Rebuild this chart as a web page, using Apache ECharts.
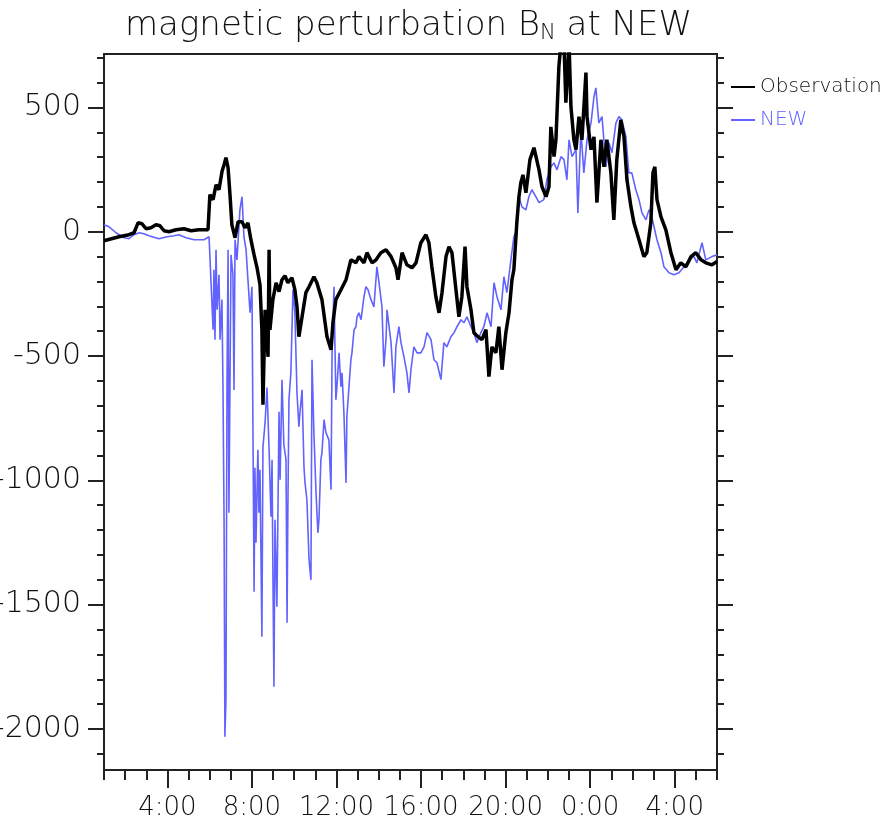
<!DOCTYPE html>
<html>
<head>
<meta charset="utf-8">
<script src="https://cdn.jsdelivr.net/npm/echarts@6/dist/echarts.min.js"></script>
<style>
  html, body { margin: 0; padding: 0; background: #fff; }
  #chart { width: 886px; height: 833px; }
</style>
</head>
<body>
<div id="chart"></div>
<script>
// time in hours from 0:00 of the first day, values in nT
var obsTime = [1.00, 1.71, 2.18, 2.42, 2.61, 2.80, 2.99, 3.22, 3.46, 3.65, 3.84, 4.07, 4.41, 4.78, 5.12, 5.49, 5.92,
    6.01, 6.16, 6.30, 6.44, 6.58, 6.68, 6.77, 6.87, 6.96, 7.05, 7.20, 7.34, 7.53, 7.67, 7.81, 7.95, 8.10, 8.24, 8.38,
    8.47, 8.52, 8.62, 8.71, 8.76, 8.81, 8.85, 8.99, 9.14, 9.28, 9.42, 9.56, 9.70, 9.89, 10.03, 10.13, 10.22, 10.37,
    10.55, 10.70, 10.93, 11.07, 11.31, 11.55, 11.74, 11.83, 11.97, 12.21, 12.45, 12.68, 12.92, 13.06, 13.30, 13.44,
    13.68, 13.87, 14.10, 14.34, 14.58, 14.81, 14.91, 15.10, 15.33, 15.57, 15.76, 15.99, 16.23, 16.37, 16.51, 16.70,
    16.85, 16.99, 17.18, 17.32, 17.46, 17.65, 17.79, 17.93, 18.08, 18.17, 18.36, 18.50, 18.69, 18.88, 19.07, 19.21,
    19.35, 19.54, 19.68, 19.83, 20.01, 20.16, 20.30, 20.39, 20.53, 20.63, 20.72, 20.82, 20.96, 21.15, 21.34, 21.58,
    21.72, 21.91, 22.05, 22.14, 22.29, 22.38, 22.52, 22.62, 22.76, 22.85, 23.00, 23.09, 23.23, 23.33, 23.47, 23.61,
    23.80, 23.85, 24.04, 24.18, 24.32, 24.51, 24.65, 24.79, 24.98, 25.12, 25.26, 25.45, 25.60, 25.74, 25.93, 26.07,
    26.31, 26.54, 26.68, 26.87, 26.97, 27.06, 27.16, 27.35, 27.58, 27.82, 28.06, 28.29, 28.53, 28.77, 29.00, 29.24,
    29.47, 29.76, 30.00];
var obsValue = [-36, -20, -12, -4, 36, 32, 12, 16, 28, 24, 4, 0, 8, 12, 4, 8, 8,
    149, 129, 189, 169, 241, 270, 298, 257, 149, 28, -24, 40, 40, 16, 36, -32, -93, -145, -213,
    -394, -696, -314, -434, -503, -72, -394, -273, -205, -241, -193, -177, -205, -185, -233, -302, -422, -342,
    -245, -221, -181, -205, -273, -422, -475, -366, -273, -233, -193, -113, -125, -100, -125, -84,
    -125, -113, -84, -72, -100, -145, -193, -84, -133, -145, -125, -44, -12, -44, -141, -261,
    -326, -245, -100, -60, -84, -233, -342, -261, -60, -221, -314, -406, -422, -434, -394, -583,
    -463, -487, -382, -555, -406, -326, -193, -153, 36, 141, 197, 229, 157, 290, 338, 249,
    181, 141, 181, 422, 302, 370, 664, 760, 760, 519, 760, 503, 370, 330, 463, 370,
    640, 463, 330, 382, 117, 370, 261, 370, 237, 48, 290, 450, 382, 209, 100, 36,
    -32, -100, -84, 36, 237, 261, 129, 60, 8, -84, -153, -125, -141, -100, -84, -113,
    -125, -133, -120];

var newTime = [1.00, 1.24, 1.57, 1.95, 2.18, 2.42, 2.66, 2.89, 3.13, 3.60, 3.98, 4.31, 4.55, 4.88, 5.26, 5.73, 5.97,
    6.06, 6.16, 6.20, 6.25, 6.30, 6.35, 6.44, 6.49, 6.58, 6.63, 6.68, 6.72, 6.77, 6.82, 6.87, 6.91, 7.01, 7.10, 7.15,
    7.20, 7.29, 7.43, 7.53, 7.62, 7.72, 7.81, 7.91, 8.00, 8.10, 8.14, 8.19, 8.28, 8.33, 8.38, 8.47, 8.52, 8.62, 8.71,
    8.81, 8.90, 8.95, 8.99, 9.04, 9.09, 9.18, 9.23, 9.28, 9.33, 9.42, 9.51, 9.61, 9.66, 9.70, 9.75, 9.84, 9.94,
    10.03, 10.13, 10.22, 10.27, 10.37, 10.46, 10.51, 10.60, 10.70, 10.79, 10.84, 10.93, 11.03, 11.12, 11.17, 11.26,
    11.31, 11.41, 11.50, 11.64, 11.74, 11.79, 11.88, 11.97, 12.02, 12.12, 12.21, 12.26, 12.35, 12.45, 12.49, 12.59,
    12.68, 12.73, 12.83, 12.92, 12.97, 13.06, 13.16, 13.30, 13.39, 13.49, 13.63, 13.77, 13.91, 14.01, 14.15, 14.24,
    14.34, 14.39, 14.58, 14.72, 14.81, 14.95, 15.05, 15.19, 15.33, 15.43, 15.52, 15.66, 15.81, 15.99, 16.14, 16.28,
    16.47, 16.61, 16.75, 16.94, 17.08, 17.22, 17.41, 17.56, 17.70, 17.89, 18.03, 18.17, 18.36, 18.50, 18.64, 18.83,
    18.97, 19.12, 19.31, 19.45, 19.59, 19.78, 19.92, 20.06, 20.25, 20.39, 20.53, 20.63, 20.77, 20.96, 21.10, 21.24,
    21.43, 21.58, 21.81, 21.95, 22.14, 22.29, 22.43, 22.62, 22.76, 22.90, 23.00, 23.14, 23.33, 23.42, 23.56, 23.70,
    23.85, 24.04, 24.18, 24.27, 24.41, 24.56, 24.75, 24.89, 25.03, 25.22, 25.36, 25.50, 25.69, 25.83, 25.97, 26.16,
    26.31, 26.45, 26.64, 26.78, 26.87, 27.02, 27.16, 27.35, 27.49, 27.73, 27.96, 28.20, 28.44, 28.67, 28.91, 29.05,
    29.29, 29.47, 29.76, 30.00];
var newValue = [28, 20, -4, -24, -28, -12, -4, -8, -16, -28, -20, -16, -12, -24, -32, -32, -20,
    -24, -394, -153, -434, -72, -314, -173, -434, -273, -636, -1158, -2031, -1882, -595, -72, -1130, -93, -173, -636,
    -32, -113, 88, 141, -20, -72, -193, -326, -221, -1448, -949, -1251, -877, -1130, -957, -1629, -865, -768, -627,
    -877, -1146, -917, -1359, -1830, -1158, -1508, -1118, -724, -997, -595, -857, -917, -1573, -1106, -676, -567, -233,
    -326, -648, -784, -728, -636, -945, -1010, -1078, -1319, -1400, -515, -808, -1050, -1211, -1158, -917,
    -889, -756, -808, -837, -1038, -487, -221, -676, -623, -487, -623, -567, -728, -1010, -744, -623,
    -515, -487, -394, -382, -342, -326, -354, -261, -221, -233, -273, -302, -141, -205, -302, -543,
    -434, -314, -446, -648, -463, -382, -446, -503, -567, -648, -555, -463, -487, -487, -463, -406,
    -434, -515, -527, -595, -446, -463, -422, -406, -382, -354, -366, -342, -382, -406, -446, -406,
    -382, -326, -382, -205, -261, -314, -181, -245, -113, -20, 8, 141, 100, 88, 141, 169,
    141, 117, 129, 209, 261, 277, 249, 302, 290, 209, 370, 302, 330, 76, 410, 237,
    370, 438, 543, 579, 438, 463, 261, 358, 318, 438, 463, 450, 382, 237, 237, 169,
    129, 76, 48, 88, 76, 20, -32, -84, -141, -165, -173, -165, -141, -113, -100, -125,
    -44, -113, -100, -93];

var majorY = [-2000, -1500, -1000, -500, 0, 500];
var minorY = [-2100, -1900, -1800, -1700, -1600, -1400, -1300, -1200, -1100, -900, -800, -700, -600,
    -400, -300, -200, -100, 100, 200, 300, 400, 600, 700];
var majorX = [4, 8, 12, 16, 20, 24, 28];
var minorX = [1, 2, 3, 5, 6, 7, 9, 10, 11, 13, 14, 15, 17, 18, 19, 21, 22, 23, 25, 26, 27, 29, 30];

var FONT = "'DejaVu Sans'";
var WEIGHT = 200;
var BLUE = '#6262ff';

function pairs(t, v) {
    var out = [];
    for (var i = 0; i < t.length; i++) out.push([t[i], v[i]]);
    return out;
}

function yAxisDef(pos, ticks, len, labels) {
    return {
        type: 'value', position: pos, min: -2165, max: 715,
        axisLine: { show: true, onZero: false, lineStyle: { color: '#222', width: 2 } },
        axisTick: { show: true, inside: false, length: len, customValues: ticks, lineStyle: { color: '#222', width: 2 } },
        axisLabel: labels ? {
            show: true, customValues: ticks, margin: 23, color: '#111',
            fontFamily: FONT, fontWeight: WEIGHT, fontSize: 30,
            formatter: function (v) { return String(v); }
        } : { show: false },
        splitLine: { show: false }
    };
}

function xAxisDef(ticks, len, labels) {
    return {
        type: 'value', position: 'bottom', min: 1, max: 30,
        axisLine: { show: true, onZero: false, lineStyle: { color: '#222', width: 2 } },
        axisTick: { show: true, inside: false, length: len, customValues: ticks, lineStyle: { color: '#222', width: 2 } },
        axisLabel: labels ? {
            show: true, customValues: ticks, margin: 25, color: '#111',
            fontFamily: FONT, fontWeight: WEIGHT, fontSize: 26,
            hideOverlap: false,
            formatter: function (v) { return (v % 24) + ':00'; }
        } : { show: false },
        splitLine: { show: false }
    };
}

var myChart = echarts.init(document.getElementById('chart'));

var option = {
    animation: false,
    backgroundColor: '#fff',
    title: {
        text: '{a|magnetic perturbation B}{s|N}{a| at NEW}',
        left: 120,
        top: 4,
        textStyle: {
            rich: {
                a: { fontFamily: FONT, fontWeight: WEIGHT, fontSize: 34, color: '#111' },
                s: { fontFamily: FONT, fontWeight: WEIGHT, fontSize: 21, color: '#111', padding: [14, 0, 0, 0] }
            }
        }
    },
    legend: {
        orient: 'vertical',
        left: 726,
        top: 72,
        icon: 'rect',
        itemWidth: 24,
        itemHeight: 2,
        itemGap: 13,
        textStyle: { fontFamily: FONT, fontWeight: WEIGHT, fontSize: 20, color: '#111' },
        data: [
            { name: 'Observation', textStyle: { color: '#111' } },
            { name: 'NEW', textStyle: { color: BLUE } }
        ]
    },
    grid: {
        show: true,
        left: 104, right: 169, top: 54, bottom: 63,
        containLabel: false,
        outerBoundsMode: 'none',
        borderColor: '#222', borderWidth: 2,
        backgroundColor: '#fff'
    },
    xAxis: [
        xAxisDef(majorX, 18, true),
        xAxisDef(minorX, 10, false)
    ],
    yAxis: [
        yAxisDef('left', majorY, 16, true),
        yAxisDef('left', minorY, 7, false),
        yAxisDef('right', majorY, 16, false),
        yAxisDef('right', minorY, 7, false)
    ],
    series: [
        {
            name: 'NEW',
            type: 'line',
            xAxisIndex: 0, yAxisIndex: 0,
            showSymbol: false,
            clip: true,
            z: 2,
            color: BLUE,
            lineStyle: { color: BLUE, width: 1.6 },
            data: pairs(newTime, newValue)
        },
        {
            name: 'Observation',
            type: 'line',
            xAxisIndex: 0, yAxisIndex: 0,
            showSymbol: false,
            clip: true,
            z: 3,
            color: '#000',
            lineStyle: { color: '#000', width: 3.5 },
            data: pairs(obsTime, obsValue)
        }
    ]
};

myChart.setOption(option, true);
</script>
</body>
</html>
